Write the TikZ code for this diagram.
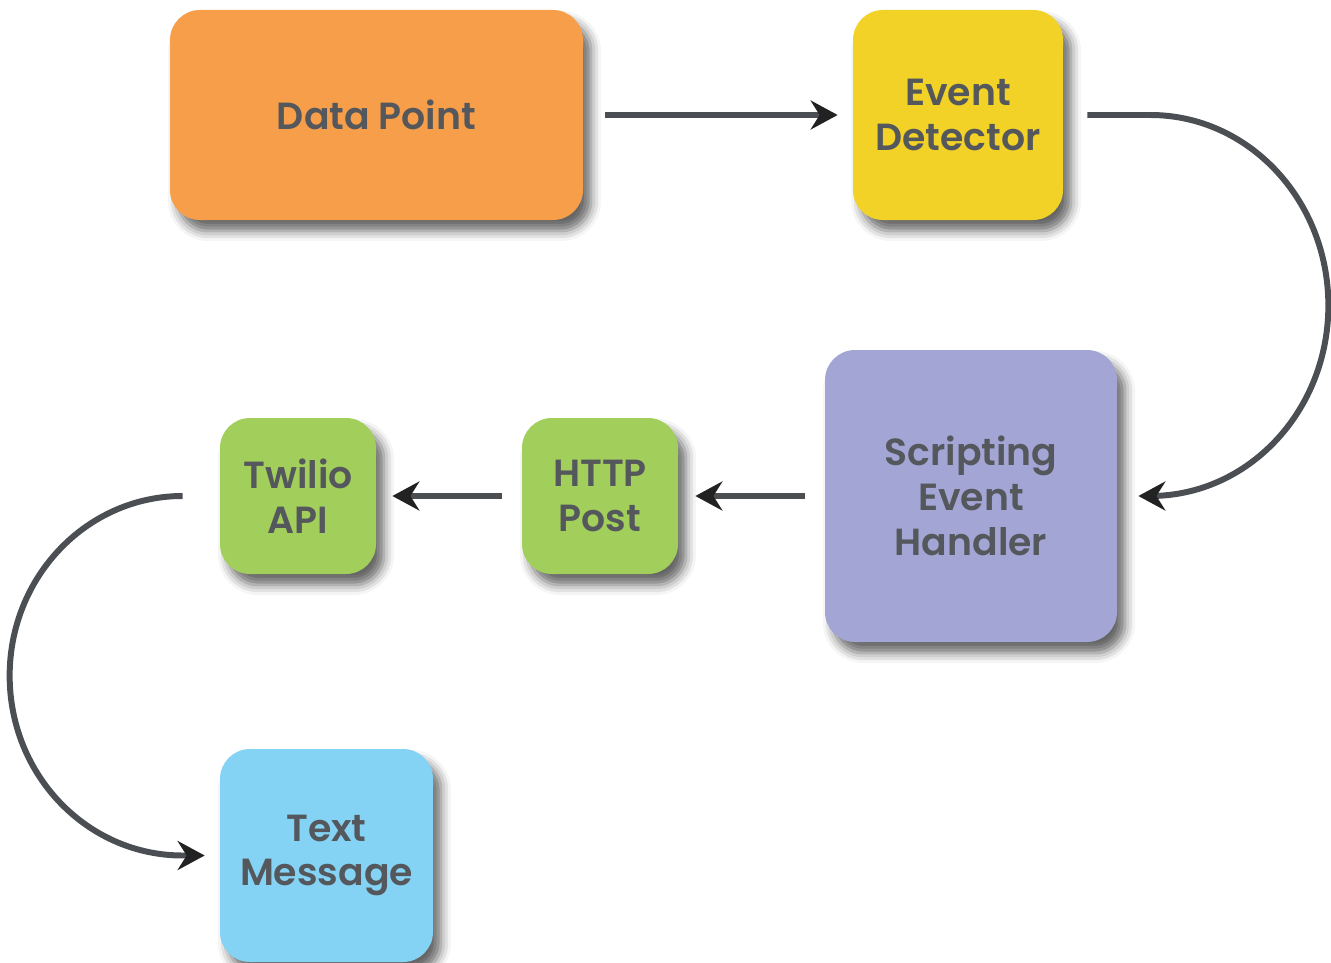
\documentclass[tikz,border=0pt]{standalone}
\usepackage{fontspec}
\setmainfont{Poppins}[BoldFont={Poppins SemiBold}]
\usetikzlibrary{arrows.meta, positioning, calc, shadows.blur}

\definecolor{dpOrange}{RGB}{246,158,73}
\definecolor{evYellow}{RGB}{242,210,39}
\definecolor{shLavender}{RGB}{163,166,212}
\definecolor{apiGreen}{RGB}{162,206,91}
\definecolor{msgBlue}{RGB}{132,211,244}
\definecolor{txtGray}{RGB}{84,87,92}
\definecolor{lineGray}{RGB}{75,78,83}
\definecolor{tipGray}{RGB}{34,34,34}

\begin{document}
\begin{tikzpicture}[
  box/.style={rounded corners=0.6cm, align=center, text=txtGray,
    font=\bfseries\fontsize{21.5}{25.5}\selectfont,
    blur shadow={shadow xshift=0.16cm, shadow yshift=-0.22cm, shadow blur radius=0.2cm, shadow opacity=60}},
  flow/.style={draw=lineGray, line width=3.4pt,
    -{Stealth[length=0.54cm, width=0.58cm, inset=0.18cm, color=tipGray]}}
]
\useasboundingbox (0,0) rectangle (26.62,-19.26);

% Pipeline boxes
\node[box, fill=dpOrange, minimum width=8.26cm, minimum height=4.2cm] (datapoint) at (7.53,-2.3) {Data Point};
\node[box, fill=evYellow, minimum width=4.2cm, minimum height=4.2cm] (detector) at (19.16,-2.3) {Event\\Detector};
\node[box, fill=shLavender, minimum width=5.84cm, minimum height=5.84cm] (handler) at (19.42,-9.92) {Scripting\\Event\\Handler};
\node[box, fill=apiGreen, minimum width=3.12cm, minimum height=3.12cm] (http) at (12.0,-9.92) {HTTP\\Post};
\node[box, fill=apiGreen, minimum width=3.12cm, minimum height=3.12cm] (twilio) at (5.96,-9.92) {Twilio\\API};
\node[box, fill=msgBlue, minimum width=4.26cm, minimum height=4.26cm] (message) at (6.53,-17.11) {Text\\Message};

% Connectors
\draw[flow] ([xshift=0.44cm]datapoint.east) -- ([xshift=-0.3cm]detector.west);
\draw[flow] ([xshift=0.48cm]detector.east) -- ++(1.26,0)
  arc[start angle=90, end angle=-90, x radius=3.56cm, y radius=3.81cm]
  -- ([xshift=0.42cm]handler.east);
\draw[flow] ([xshift=-0.4cm]handler.west) -- ([xshift=0.34cm]http.east);
\draw[flow] ([xshift=-0.4cm]http.west) -- ([xshift=0.32cm]twilio.east);
\draw[flow] ([xshift=-0.74cm]twilio.west)
  arc[start angle=90, end angle=270, x radius=3.46cm, y radius=3.595cm]
  -- ([xshift=-0.3cm]message.west);

\end{tikzpicture}
\end{document}
